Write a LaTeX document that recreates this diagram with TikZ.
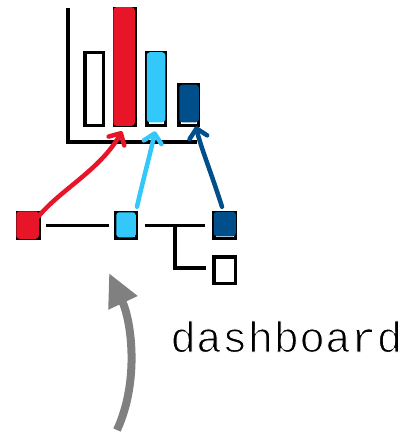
\documentclass[tikz,border=0pt]{standalone}
\usepackage{fontspec}
\setmonofont{Liberation Mono}
\usetikzlibrary{arrows.meta}
\definecolor{inkred}{RGB}{232,20,40}
\definecolor{inksky}{RGB}{50,200,250}
\definecolor{inknavy}{RGB}{0,78,138}
\definecolor{inkgray}{RGB}{128,128,128}
% light caption face: glyphs filled, then edged with a thin white stroke
\newcommand{\lightface}[1]{\special{pdf:code q 2 Tr 1 1 1 RG 1 w}#1\special{pdf:code Q}}

\begin{document}
\begin{tikzpicture}[x=1pt,y=-1pt,
  box/.style={draw=black, line width=3.5pt, inner sep=0pt, outer sep=0pt, fill=white},
  leaf/.style={box, minimum width=21.5pt, minimum height=25.5pt},
  axisline/.style={draw=black, line width=4pt},
  wire/.style={draw=black, line width=3.4pt},
  scribble/.style={rounded corners=3pt},
  feed/.style={line width=4.5pt, line cap=round, line join=round,
    -{Straight Barb[length=9pt,width=18pt,line cap=round,line join=round]}},
  bigarrow/.style={draw=inkgray, line width=8pt,
    -{Triangle[length=33pt,width=30pt]}}]
\useasboundingbox (0,0) rectangle (408,433);

% chart axes
\coordinate (ytop) at (68,8);
\coordinate (orig) at (68,142);
\coordinate (xend) at (197,142);
\draw[axisline] (ytop) -- (orig) -- (xend);

% bars
\node[box, minimum width=18.5pt, minimum height=72.5pt]  (b1) at (94,89) {};
\node[box, minimum width=20.5pt, minimum height=116.5pt] (b2) at (125,67) {};
\node[box, minimum width=18.5pt, minimum height=72.5pt]  (b3) at (156,89) {};
\node[box, minimum width=19.5pt, minimum height=40.5pt]  (b4) at (188.5,105) {};
\fill[inkred, scribble]  ([shift={(-1.5pt,1.5pt)}]b2.north west) rectangle ([shift={(-0.5pt,-0.5pt)}]b2.south east);
\fill[inksky, scribble]  ([shift={(0pt,0.5pt)}]b3.north west) rectangle ([shift={(0pt,3pt)}]b3.south east);
\fill[inknavy, scribble] ([shift={(0.5pt,0pt)}]b4.north west) rectangle ([shift={(0.5pt,3pt)}]b4.south east);

% tree
\node[leaf] (A) at (28.5,225.5) {};
\node[leaf, minimum width=20.5pt] (B) at (126,225.5) {};
\node[leaf] (C) at (224.5,225.5) {};
\node[leaf, minimum height=26.5pt] (D) at (224.5,270) {};
\fill[inkred, scribble]  ([shift={(-1.5pt,1.5pt)}]A.north west) rectangle ([shift={(-0.5pt,-0.5pt)}]A.south east);
\fill[inksky, scribble]  ([shift={(0.5pt,0.5pt)}]B.north west) rectangle ([shift={(-0.5pt,1pt)}]B.south east);
\fill[inknavy, scribble] ([shift={(0pt,1pt)}]C.north west) rectangle ([shift={(0.5pt,2pt)}]C.south east);

\draw[wire, shorten <=7pt, shorten >=7pt] (A) -- (B);
\draw[wire, shorten <=8.5pt, shorten >=8.5pt] (B) -- (C);
\coordinate (jn) at (175,225.5);
\draw[wire] (jn) |- ([shift={(-8pt,2pt)}]D.west);

% links from tree nodes to bars
\draw[feed, inkred] ([shift={(9.5pt,8.5pt)}]A.center)
  .. controls (60,190) and (100,170) .. ([shift={(-3pt,-6pt)}]b2.south);
\draw[feed, inksky] ([shift={(11pt,6pt)}]B.north)
  .. controls (143,180) and (150,155) .. ([shift={(-1pt,-6pt)}]b3.south);
\draw[feed, inknavy] ([shift={(-2.5pt,6pt)}]C.north)
  .. controls (212,175) and (200,145) .. ([shift={(7.5pt,-1pt)}]b4.south);

% big arrow and caption
\coordinate (g0) at (117,430);
\coordinate (g1) at (109,273);
\draw[bigarrow] (g0) .. controls (140,380) and (131,320) .. (g1);
\node[anchor=base west, inner sep=0pt, font=\ttfamily\fontsize{43}{50}\selectfont] (lbl) at (170,352) {\lightface{dashboard}};
\end{tikzpicture}
\end{document}
